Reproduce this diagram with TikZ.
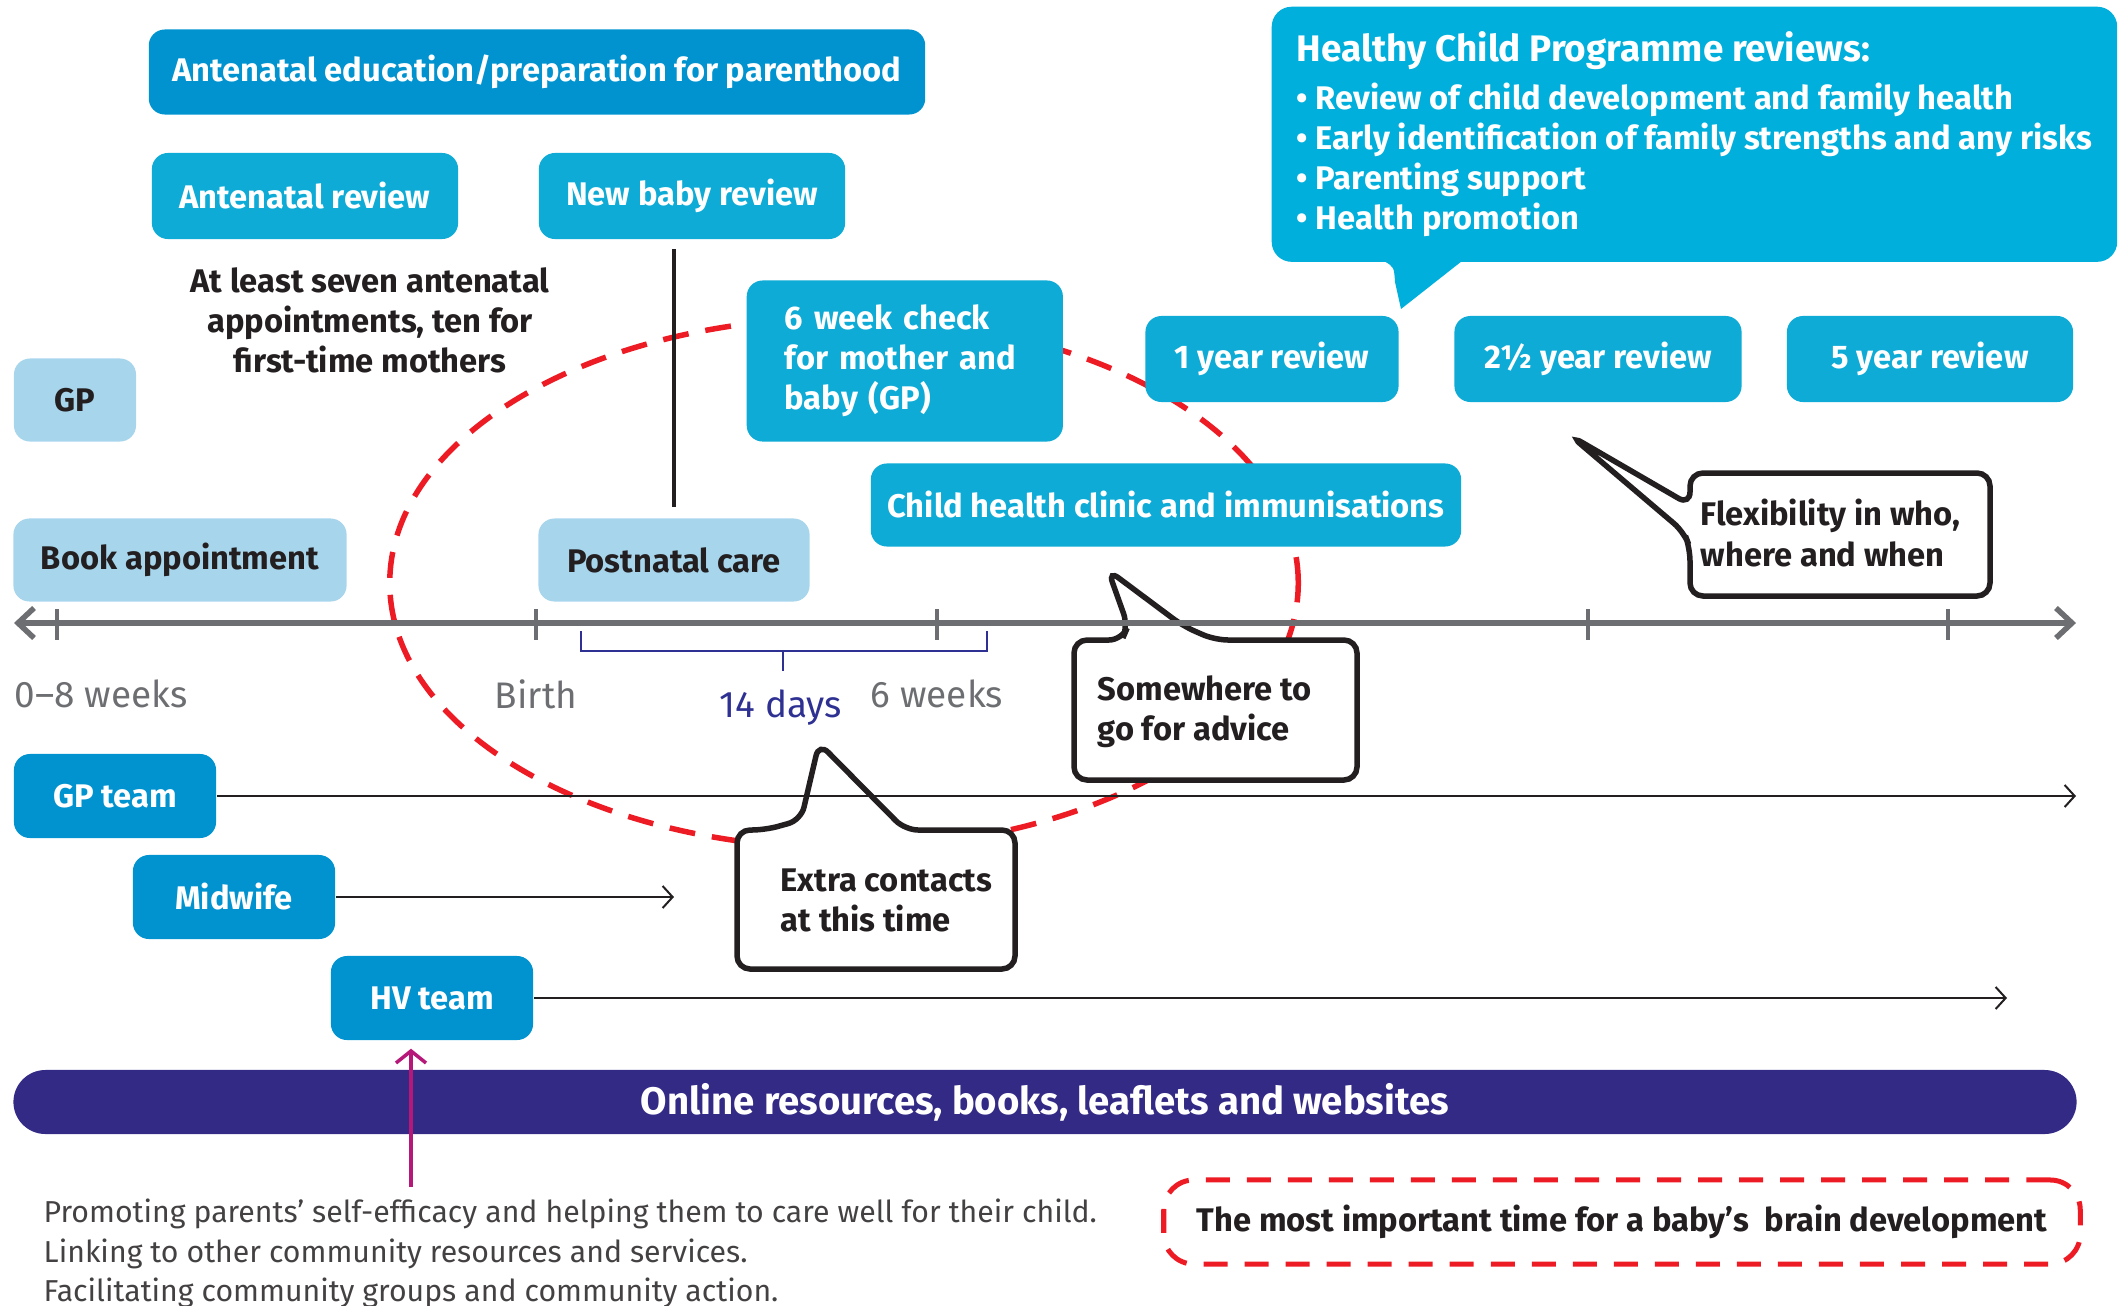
\documentclass[tikz,border=0pt]{standalone}
\usepackage{fontspec}
\setmainfont{Fira Sans}
\usetikzlibrary{arrows.meta}

\definecolor{hcpDark}{RGB}{0,147,207}
\definecolor{hcpMid}{RGB}{13,171,214}
\definecolor{hcpSky}{RGB}{0,175,219}
\definecolor{hcpLight}{RGB}{167,213,236}
\definecolor{hcpPurple}{RGB}{51,42,134}
\definecolor{hcpRed}{RGB}{237,28,36}
\definecolor{hcpGrey}{RGB}{109,110,113}
\definecolor{hcpNavy}{RGB}{46,49,146}
\definecolor{hcpMagenta}{RGB}{182,24,122}
\definecolor{hcpInk}{RGB}{35,31,32}

\begin{document}
\begin{tikzpicture}
[x=0.01cm,y=-0.01cm,
  boxFont/.style={font=\fontsize{9.3}{11.4}\selectfont\bfseries},
  darkBox/.style={boxFont,fill=hcpDark,text=white,rounded corners=0.16cm,inner sep=0pt},
  midBox/.style={boxFont,fill=hcpMid,text=white,rounded corners=0.16cm,inner sep=0pt},
  lightBox/.style={boxFont,fill=hcpLight,text=hcpInk,rounded corners=0.16cm,inner sep=0pt},
  inkText/.style={boxFont,text=hcpInk,inner sep=0pt},
  bubbleLine/.style={draw=hcpInk,fill=white,line width=0.055cm,rounded corners=0.13cm},
  redDash/.style={draw=hcpRed,line width=0.055cm,dash pattern=on 0.26cm off 0.17cm},
  axisLine/.style={draw=hcpGrey,line width=0.055cm,
    {Straight Barb[length=0.16cm,width=0.3cm]}-{Straight Barb[length=0.16cm,width=0.3cm]}},
  teamLine/.style={draw=hcpInk,line width=0.02cm,-{Straight Barb[length=0.1cm,width=0.22cm]}},
  axisLabel/.style={font=\fontsize{10.5}{12}\selectfont,text=hcpGrey,inner sep=0pt}]
\useasboundingbox (0,0) rectangle (2127,1306);
%% the dashed ring round the first weeks
\draw[redDash] (844,583) ellipse [x radius=4.54cm,y radius=2.65cm];
%% speech bubbles
\draw[bubbleLine] (765,830) -- (737,830) -- (737,969) -- (1015,969) -- (1015,830)
  -- (905,830) -- (819,743) -- (801,820) -- cycle;
\node[inkText,align=left,anchor=west] (extraNote) at (780,900) {Extra contacts\\at this time};
\draw[bubbleLine] (1122,640) -- (1074,640) -- (1074,780) -- (1357,780) -- (1357,640)
  -- (1215,640) -- (1183,626) -- (1108,570) -- (1128,626) -- cycle;
\node[inkText,align=left,anchor=west] (adviceNote) at (1097,712) {Somewhere to\\go for advice};
\draw[bubbleLine] (1690,548) -- (1690,596) -- (1990,596) -- (1990,473) -- (1690,473)
  -- (1690,505) -- (1571,436) -- (1684,532) -- cycle;
\node[inkText,align=left,anchor=west] (flexNote) at (1700,533) {Flexibility in who,\\where and when};
%% the time line
\coordinate (axisStart) at (14,623);
\coordinate (axisEnd) at (2076,623);
\draw[axisLine] (axisStart) -- (axisEnd);
\foreach \x in {57,536,937,1588,1948}
{
  \draw[draw=hcpGrey,line width=0.04cm] (\x,609) -- (\x,640);
}
\node[axisLabel,anchor=west] (weeksLabel) at (14,694) {0–8 weeks};
\node[axisLabel] (birthLabel) at (536,694) {Birth};
\node[axisLabel] (sixWeeksLabel) at (937,694) {6 weeks};
\node[axisLabel,text=hcpNavy] (daysLabel) at (781,708) {14 days};
\draw[draw=hcpNavy,line width=0.02cm] (581,631) -- (581,651) -- (987,651) -- (987,631);
\draw[draw=hcpNavy,line width=0.02cm] (783,651) -- (783,671);
%% top row of boxes
\node[darkBox,minimum width=7.76cm,minimum height=0.85cm] (antEdu) at (537,72) {Antenatal education/preparation for parenthood};
\foreach \nodename/\x/\label in {antRev/305/Antenatal review, newBaby/692/New baby review}
{
  \node[midBox,minimum width=3.06cm,minimum height=0.86cm] (\nodename) at (\x,196) {\label};
}
\node[inkText,align=center] (antNote) at (370,320) {At least seven antenatal\\appointments, ten for\\first-time mothers};
\foreach \nodename/\x/\y/\w/\label in {gp/75/400/1.22/GP,
  bookApp/180/560/3.33/Book appointment, postnatal/674/560/2.71/Postnatal care}
{
  \node[lightBox,minimum width=\w cm,minimum height=0.83cm] (\nodename) at (\x,\y) {\label};
}
\draw[draw=hcpInk,line width=0.04cm,shorten <=0.11cm,shorten >=0.09cm] (postnatal.north) -- (postnatal.north |- newBaby.south);
\node[midBox,align=left,text width=2.4cm,inner xsep=0.38cm,minimum height=1.61cm,anchor=west] (sixWeek) at (746,361) {6 week check\\for mother and\\baby (GP)};
\foreach \nodename/\x/\w/\label in {yearOne/1272/2.53/1 year review,
  yearTwoHalf/1598/2.87/2½ year review, yearFive/1930/2.86/5 year review}
{
  \node[midBox,minimum width=\w cm,minimum height=0.86cm] (\nodename) at (\x,359) {\label};
}
\node[midBox,minimum width=5.90cm,minimum height=0.83cm] (childHealth) at (1166,505) {Child health clinic and immunisations};
%% the programme callout
\node[boxFont,fill=hcpSky,text=white,rounded corners=0.2cm,inner xsep=0.2cm,inner ysep=0pt,
  minimum width=8.45cm,minimum height=2.55cm,align=left,anchor=north west] (hcp) at (1271,6)
  {{\fontsize{10.5}{12}\selectfont Healthy Child Programme reviews:}\\[0.08cm]
   • Review of child development and family health\\
   • Early identification of family strengths and any risks\\
   • Parenting support\\
   • Health promotion};
\fill[hcpSky] (1380,250) -- (1470,250) -- (1462,261) -- (1401,309) -- (1395,282)
  .. controls (1394,267) .. (1384,261) -- cycle;
%% teams and their reach
\foreach \nodename/\x/\y/\label in {gpTeam/115/796/GP team, midwife/234/897/Midwife, hvTeam/432/998/HV team}
{
  \node[darkBox,minimum width=2.02cm,minimum height=0.84cm] (\nodename) at (\x,\y) {\label};
}
\coordinate (gpTeam-end) at (2076,796);
\coordinate (midwife-end) at (674,897);
\coordinate (hvTeam-end) at (2007,998);
\foreach \u in {gpTeam, midwife, hvTeam}
{
  \draw[teamLine] (\u.east) -- (\u-end);
}
\node[fill=hcpPurple,text=white,rounded corners=0.32cm,minimum width=20.62cm,minimum height=0.64cm,
  inner sep=0pt,font=\fontsize{10.9}{12}\selectfont\bfseries] (onlineBar) at (1045,1102)
  {Online resources, books, leaflets and websites};
%% bottom notes
\coordinate (promoTop) at (411,1187);
\draw[draw=hcpMagenta,line width=0.035cm,-{Straight Barb[length=0.12cm,width=0.3cm]},shorten >=0.08cm]
  (promoTop) -- (promoTop |- hvTeam.south);
\node[font=\fontsize{8.6}{11.3}\selectfont,text=hcpInk!85,align=left,anchor=north west,inner sep=0pt] (promoNote) at (43,1198)
  {Promoting parents’ self-efficacy and helping them to care well for their child.\\
   Linking to other community resources and services.\\
   Facilitating community groups and community action.};
\node[inkText,draw=hcpRed,line width=0.05cm,dash pattern=on 0.24cm off 0.17cm,rounded corners=0.3cm,
  minimum width=9.16cm,minimum height=0.84cm] (brainNote) at (1622,1222)
  {The most important time for a baby’s~ brain development};
\end{tikzpicture}
\end{document}
